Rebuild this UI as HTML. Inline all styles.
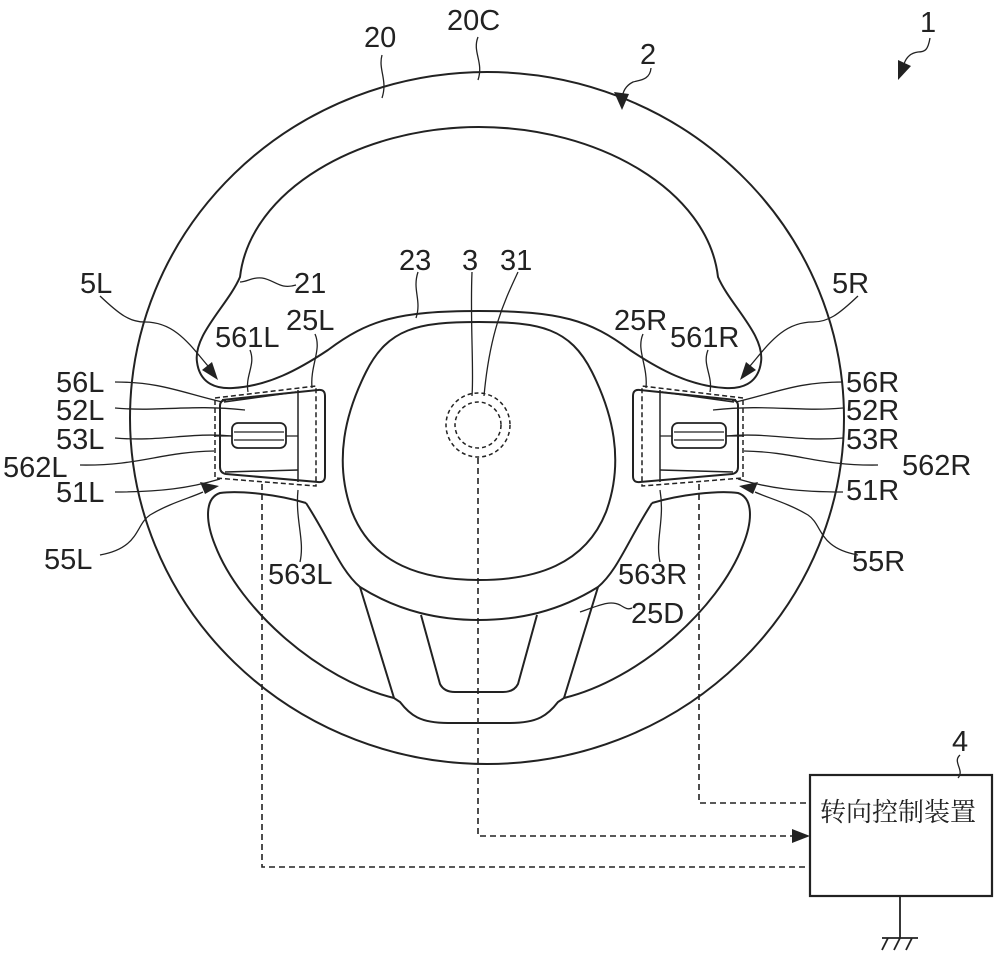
<!DOCTYPE html>
<html><head><meta charset="utf-8"><style>
html,body{margin:0;padding:0;background:#fff;}
svg{display:block;}
text{font-family:"Liberation Sans","DejaVu Sans",sans-serif;font-size:29px;fill:#222;}
.cn{font-family:"Liberation Serif","Noto Serif CJK SC",serif;font-size:26px;}
</style></head><body>
<svg width="1000" height="957" viewBox="0 0 1000 957" xmlns="http://www.w3.org/2000/svg">
<defs>
<g id="sw">
  <path d="M222,400 L318,390 Q325,389 325,396 L325,476 Q325,483 318,482 L226,474 Q220,473 220,467 L220,406 Q220,400 226,400 Z" fill="none" stroke="#222" stroke-width="2"/>
  <path d="M224,402 L296,392 M298,390 L298,482" fill="none" stroke="#222" stroke-width="1.5"/>
  <path d="M225,472 L298,470" fill="none" stroke="#222" stroke-width="1.5"/>
  <path d="M215,398 L316,386 L316,486 L215,478 Z" fill="none" stroke="#222" stroke-width="1.5" stroke-dasharray="5,3"/>
  <rect x="232" y="423" width="54" height="25" rx="6" fill="none" stroke="#222" stroke-width="1.8"/>
  <path d="M234,432 L284,432 M234,440 L284,440 M286,436 L298,436 M214,436 L232,436" fill="none" stroke="#222" stroke-width="1.3"/>
  <path d="M115,382 C160,382 180,392 222,402" fill="none" stroke="#222" stroke-width="1.3"/>
  <path d="M115,408 C160,412 190,404 245,410" fill="none" stroke="#222" stroke-width="1.3"/>
  <path d="M115,438 C160,442 190,432 232,436" fill="none" stroke="#222" stroke-width="1.3"/>
  <path d="M80,465 C140,466 160,452 214,451" fill="none" stroke="#222" stroke-width="1.3"/>
  <path d="M115,492 C160,492 190,488 220,479" fill="none" stroke="#222" stroke-width="1.3"/>
  <path d="M100,555 C140,548 135,525 150,515 C170,503 190,498 203,492" fill="none" stroke="#222" stroke-width="1.3"/>
  <path d="M219,486 L200,482 L205,494 Z" fill="#222"/>
  <path d="M100,296 C120,315 130,322 145,322 C175,322 190,345 208,366" fill="none" stroke="#222" stroke-width="1.3"/>
  <path d="M218,380 L202,370 L212,362 Z" fill="#222"/>
  <path d="M250,350 C256,365 245,375 248,392" fill="none" stroke="#222" stroke-width="1.3"/>
  <path d="M315,334 C322,350 310,365 312,388" fill="none" stroke="#222" stroke-width="1.3"/>
</g>
</defs>
<g fill="none" stroke="#222" stroke-width="2">
  <ellipse cx="487" cy="418" rx="357" ry="346"/>
  <path d="M240,277 C250,190 360,127 479,127 C598,127 708,190 718,277 C730,305 765,335 761,362 C758,385 740,389 725,388 C690,386 660,370 630,350 C590,320 560,311 479,311 C398,311 368,320 328,350 C298,370 268,386 233,388 C218,389 200,385 197,362 C193,335 228,305 240,277 Z"/>
  <path d="M479,322 C540,322 570,328 592,372 C612,412 625,460 606,512 C585,565 535,580 479,580 C423,580 373,565 352,512 C333,460 346,412 366,372 C388,328 418,322 479,322 Z"/>
  <path d="M306,503 C330,540 340,570 360,587 C400,612 440,620 479,620 C518,620 558,612 598,587 C618,570 628,540 652,503"/>
  <path d="M306,503 C280,495 240,490 220,493 C205,498 205,520 215,545 C240,610 320,680 394,698 L400,702 C410,715 420,723 448,723 L510,723 C538,723 548,715 558,702 L564,698 C638,680 718,610 743,545 C753,520 753,498 738,493 C718,490 678,495 652,503"/>
  <path d="M360,587 L394,698 M598,587 L564,698"/>
  <path d="M421,615 L440,684 Q444,692 455,692 L503,692 Q514,692 518,684 L537,615"/>
</g>
<use href="#sw"/>
<use href="#sw" transform="translate(958,0) scale(-1,1)"/>
<circle cx="478" cy="425" r="32" fill="none" stroke="#222" stroke-width="1.5" stroke-dasharray="4,3"/>
<circle cx="478" cy="425" r="23" fill="none" stroke="#222" stroke-width="1.5" stroke-dasharray="4,3"/>
<g fill="none" stroke="#222" stroke-width="1.6" stroke-dasharray="6,4">
  <path d="M478,458 L478,836 L795,836"/>
  <path d="M262,484 L262,867 L810,867"/>
  <path d="M699,484 L699,803 L810,803"/>
</g>
<path d="M810,836 L792,829 L792,843 Z" fill="#222"/>
<g fill="none" stroke="#222" stroke-width="1.3">
  <path d="M382,55 C378,70 388,80 382,98"/>
  <path d="M478,37 C472,52 484,62 478,80"/>
  <path d="M651,68 C650,80 640,80 633,82 C625,86 623,92 622,98"/>
  <path d="M930,38 C928,50 925,52 918,52 C910,53 906,58 904,64"/>
  <path d="M296,285 C280,290 275,280 262,278 C252,277 247,282 240,282"/>
  <path d="M418,272 C412,290 422,300 416,318"/>
  <path d="M472,272 C470,320 474,370 472,396"/>
  <path d="M518,272 C505,300 490,330 484,396"/>
  <path d="M580,612 C600,605 610,600 620,605 C625,608 628,610 632,608"/>
  <path d="M300,562 C305,540 295,520 298,490"/>
  <path d="M660,562 C655,540 665,520 660,490"/>
  <path d="M960,755 C952,762 965,770 958,778"/>
</g>
<path d="M622,110 L614,92 L629,94 Z" fill="#222"/>
<path d="M898,80 L898,60 L911,66 Z" fill="#222"/>
<rect x="810" y="775" width="182" height="121" fill="none" stroke="#222" stroke-width="2.2"/>
<text class="cn" x="820" y="821">转向控制装置</text>
<path d="M900,896 L900,938 M882,938 L918,938 M888,938 L882,950 M900,938 L894,950 M912,938 L906,950" fill="none" stroke="#222" stroke-width="1.8"/>
<text x="364" y="47">20</text>
<text x="447" y="30">20C</text>
<text x="640" y="64">2</text>
<text x="920" y="32">1</text>
<text x="294" y="293">21</text>
<text x="399" y="270">23</text>
<text x="462" y="270">3</text>
<text x="500" y="270">31</text>
<text x="80" y="293">5L</text>
<text x="215" y="347">561L</text>
<text x="286" y="330">25L</text>
<text x="614" y="330">25R</text>
<text x="670" y="347">561R</text>
<text x="832" y="293">5R</text>
<text x="56" y="392">56L</text>
<text x="56" y="420">52L</text>
<text x="56" y="449">53L</text>
<text x="3" y="477">562L</text>
<text x="56" y="502">51L</text>
<text x="44" y="569">55L</text>
<text x="846" y="392">56R</text>
<text x="846" y="420">52R</text>
<text x="846" y="449">53R</text>
<text x="902" y="475">562R</text>
<text x="846" y="500">51R</text>
<text x="852" y="571">55R</text>
<text x="268" y="584">563L</text>
<text x="618" y="584">563R</text>
<text x="631" y="623">25D</text>
<text x="952" y="751">4</text>
</svg>
</body></html>
